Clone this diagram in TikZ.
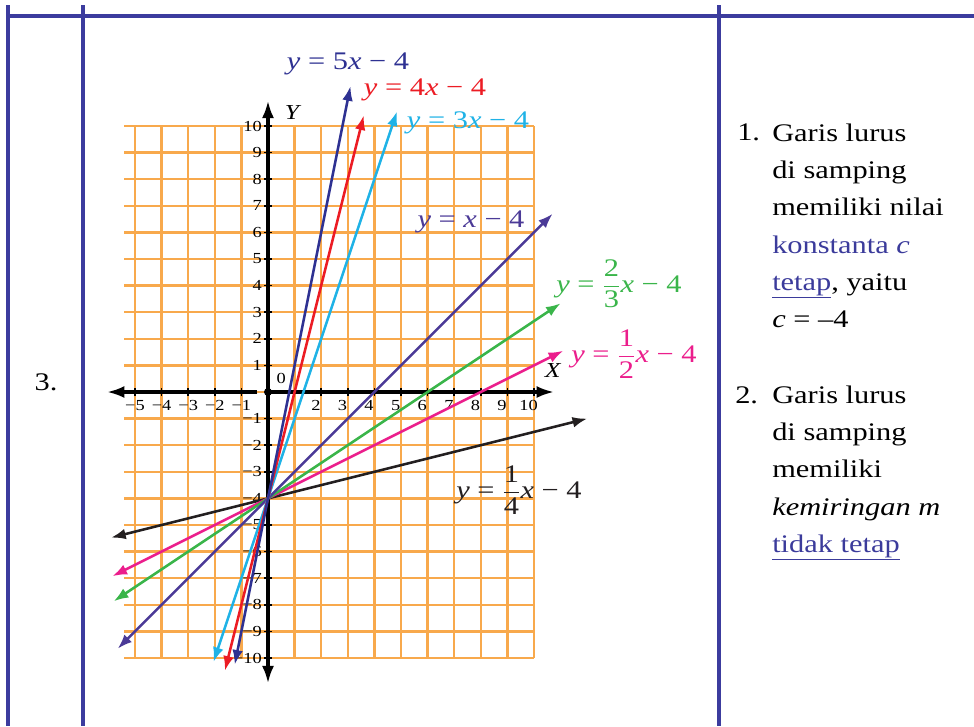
\documentclass[tikz,border=0pt]{standalone}
\usepackage{fontspec}
\setmainfont{Liberation Serif}[FakeStretch=1.2]
\usetikzlibrary{arrows.meta, positioning}

\definecolor{tablerule}{HTML}{3C3C9E}
\definecolor{gridorange}{HTML}{F8A94C}
\definecolor{notecolor}{HTML}{3B3B9B}
\definecolor{cfive}{HTML}{2E3192}
\definecolor{cfour}{HTML}{EC1C24}
\definecolor{cthree}{HTML}{1FB2E6}
\definecolor{cone}{HTML}{4B3A97}
\definecolor{ctwothirds}{HTML}{3AB54A}
\definecolor{chalf}{HTML}{EB1E8C}
\definecolor{cquarter}{HTML}{231F20}

\newcommand{\fr}[2]{$\displaystyle\frac{\mbox{#1}}{\mbox{#2}}$}

\begin{document}
\begin{tikzpicture}[
    x=0.75pt, y=-0.75pt,
    rule/.style      = {draw=tablerule, line width=2.4pt},
    gridline/.style  = {draw=gridorange, line width=1.8pt},
    axis/.style      = {-{Latex[length=13pt,width=9pt]}, line width=2.3pt, black},
    graph/.style     = {{Latex[length=11pt,width=8pt]}-{Latex[length=11pt,width=8pt]},
                        line width=1.9pt},
    ticklabel/.style = {font=\fontsize{11.5}{13}\selectfont, inner sep=0pt},
    eqlabel/.style   = {font=\fontsize{19}{22}\selectfont, inner sep=0pt},
    note/.style      = {font=\fontsize{19}{27.8}\selectfont, align=left,
                        inner sep=0pt, anchor=north west}
  ]
    \useasboundingbox (0,0) rectangle (974,726);

    % table rules
    \draw[rule] (8,5) -- (8,726);
    \draw[rule] (83,5) -- (83,726);
    \draw[rule] (719,5) -- (719,726);
    \draw[rule] (8,16) -- (974,16);

    \node[eqlabel] (rownum) at (46,382) {3.};

    \begin{scope}[shift={(268,392)}, x=19.95pt, y=19.95pt]
      % grid
      \foreach \j in {-10,...,10}
        \draw[gridline] (-5.4,\j) -- (10,\j);
      \foreach \i in {-5,...,10}
        \draw[gridline] (\i,-10) -- (\i,10);

      % axes
      \draw[axis] (-0.4,0) -- (-6.05,0);
      \draw[axis] (0,0) -- (10.75,0);
      \draw[axis] (0,0) -- (0,10.95);
      \draw[axis] (0,0) -- (0,-10.95);
      \fill (0,0) circle (0.15);
      \node[font=\fontsize{16}{18}\selectfont\itshape, inner sep=0pt] (ylab) at (0.9,10.5) {Y};
      \node[font=\fontsize{16}{18}\selectfont\itshape, inner sep=0pt] (xlab) at (10.7,0.8) {X};
      \node[ticklabel] (zero) at (0.5,0.5) {0};

      \foreach \i in {-5,...,-1} {
        \draw[line width=1.2pt] (\i,-0.15) -- (\i,0.15);
        \node[ticklabel] at (\i,-0.5) {−\the\numexpr-\i\relax};
      }
      \foreach \i in {1,...,10}
        \draw[line width=1.2pt] (\i,-0.15) -- (\i,0.15);
      \foreach \i in {2,...,10}
        \node[ticklabel] at (\i-0.2,-0.5) {\i};
      \foreach \j in {1,...,10} {
        \draw[line width=1.2pt] (-0.15,\j) -- (0.15,\j);
        \node[ticklabel, anchor=east] at (-0.22,\j) {\j};
      }
      \foreach \j in {-10,...,-1} {
        \draw[line width=1.2pt] (-0.15,\j) -- (0.15,\j);
        \node[ticklabel, anchor=east] at (-0.22,\j) {−\the\numexpr-\j\relax};
      }

      % lines through (0,-4)
      \draw[graph, cquarter]   (-5.9,{-5.9/4-4})  -- (12,{12/4-4});
      \draw[graph, chalf]      (-5.85,{-5.85/2-4}) -- (11.1,{11.1/2-4});
      \draw[graph, ctwothirds] (-5.8,{-5.8*2/3-4}) -- (11,{11*2/3-4});
      \draw[graph, cone]       (-5.65,{-5.65-4}) -- (10.7,{10.7-4});
      \draw[graph, cthree]     (-2.05,{-2.05*3-4}) -- (4.85,{4.85*3-4});
      \draw[graph, cfour]      (-1.62,{-1.62*4-4}) -- (3.6,{3.6*4-4});
      \draw[graph, cfive]      (-1.25,{-1.25*5-4}) -- (3.1,{3.1*5-4});
    \end{scope}

    % equation labels
    \node[eqlabel, text=cfive] (lfive) at (348,64) {\textit{y} = 5\textit{x} − 4};
    \node[eqlabel, text=cfour] (lfour) at (425,90) {\textit{y} = 4\textit{x} − 4};
    \node[eqlabel, text=cthree] (lthree) at (468,123) {\textit{y} = 3\textit{x} − 4};
    \node[eqlabel, text=cone] (lone) at (471,222) {\textit{y} = \textit{x} − 4};
    \node[eqlabel, text=ctwothirds] (ltwothirds) at (619,284)
      {\textit{y} = \fr{2}{3}\textit{x} − 4};
    \node[eqlabel, text=chalf] (lhalf) at (634,354)
      {\textit{y} = \fr{1}{2}\textit{x} − 4};
    \node[eqlabel, text=cquarter] (lquarter) at (519,490)
      {\textit{y} = \fr{1}{4}\textit{x} − 4};

    % notes
    \node[note] (numone) at (737,124) {1.};
    \node[note] (noteone) at (772,124)
      {Garis lurus\\
       di samping\\
       memiliki nilai\\
       {\color{notecolor}konstanta \textit{c}}\\
       {\color{notecolor}\underline{tetap}}, yaitu\\
       \textit{c} = –4};

    \node[note] (numtwo) at (735,386) {2.};
    \node[note] (notetwo) at (772,386)
      {Garis lurus\\
       di samping\\
       memiliki\\
       \textit{kemiringan m}\\
       {\color{notecolor}\underline{tidak tetap}}};

  \end{tikzpicture}
\end{document}
